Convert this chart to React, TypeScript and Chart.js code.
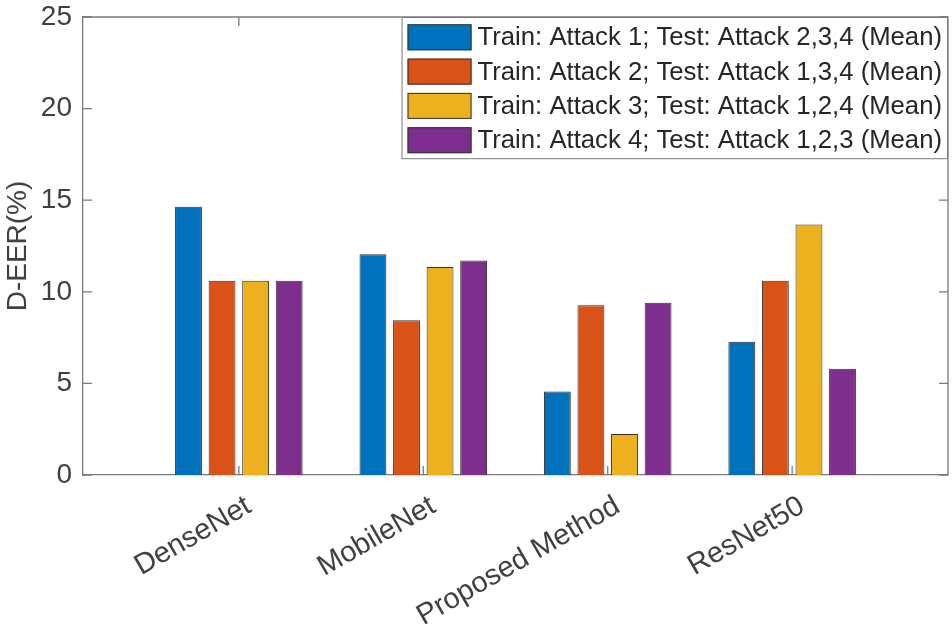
import { useEffect, useRef } from "react";
import { Chart, registerables } from "chart.js";
Chart.register(...registerables);

const categories = ["DenseNet", "MobileNet", "Proposed Method", "ResNet50"];
const seriesLabels = [
  "Train: Attack 1; Test: Attack 2,3,4 (Mean)",
  "Train: Attack 2; Test: Attack 1,3,4 (Mean)",
  "Train: Attack 3; Test: Attack 1,2,4 (Mean)",
  "Train: Attack 4; Test: Attack 1,2,3 (Mean)",
];
const attack1 = [14.64, 12.05, 4.56, 7.27];
const attack2 = [10.6, 8.45, 9.27, 10.6];
const attack3 = [10.6, 11.35, 2.24, 13.67];
const attack4 = [10.6, 11.71, 9.4, 5.8];
const yTicks = [0, 5, 10, 15, 20, 25];
const colors = ["#0072BD", "#D95319", "#EDB120", "#7E2F8E"];

const FONT = "'Liberation Sans', Arial, Helvetica, sans-serif";
const AXIS = "#7a7a7a";
const TEXT = "#404040";

// matlab-ish box: top/right lines, inward ticks, legend in the corner
const boxPlugin = {
  id: "matlabBox",
  afterDraw(chart: any) {
    const { ctx, chartArea: a, scales } = chart;
    const x = scales.x;
    const y = scales.y;
    ctx.save();
    ctx.strokeStyle = AXIS;
    ctx.lineWidth = 1.3;
    ctx.beginPath();
    ctx.moveTo(a.left, a.top);
    ctx.lineTo(a.right, a.top);
    ctx.lineTo(a.right, a.bottom);
    ctx.stroke();
    const tl = 9;
    ctx.beginPath();
    yTicks.forEach((v) => {
      const py = y.getPixelForValue(v);
      ctx.moveTo(a.left, py);
      ctx.lineTo(a.left + tl, py);
      ctx.moveTo(a.right, py);
      ctx.lineTo(a.right - tl, py);
    });
    categories.forEach((_, i) => {
      const px = x.getPixelForValue(i + 1);
      ctx.moveTo(px, a.bottom);
      ctx.lineTo(px, a.bottom - tl);
      ctx.moveTo(px, a.top);
      ctx.lineTo(px, a.top + tl);
    });
    ctx.stroke();

    // legend
    ctx.font = `25.7px ${FONT}`;
    const textW = Math.max(...seriesLabels.map((s) => ctx.measureText(s).width));
    const sw = 64;
    const sh = 26;
    const rowH = 34.3;
    const padX = 6;
    const boxW = padX + sw + 6 + textW + 6;
    const boxH = 7.3 + rowH * (seriesLabels.length - 1) + sh + 6;
    const bx = a.right - boxW;
    const by = a.top;
    ctx.fillStyle = "#fff";
    ctx.fillRect(bx, by, boxW, boxH);
    ctx.strokeStyle = AXIS;
    ctx.lineWidth = 1;
    ctx.strokeRect(bx + 0.5, by + 0.5, boxW - 1, boxH - 1);
    chart.data.datasets.forEach((ds: any, i: number) => {
      const ry = by + 7.3 + i * rowH;
      ctx.fillStyle = ds.backgroundColor;
      ctx.fillRect(bx + padX, ry, sw, sh);
      ctx.strokeStyle = "#333";
      ctx.lineWidth = 1;
      ctx.strokeRect(bx + padX + 0.5, ry + 0.5, sw - 1, sh - 1);
      ctx.fillStyle = "#262626";
      ctx.textAlign = "left";
      ctx.textBaseline = "middle";
      ctx.fillText(ds.label, bx + padX + sw + 6, ry + sh / 2 + 1);
    });
    ctx.restore();
  },
};

export default function App() {
  const canvasRef = useRef<HTMLCanvasElement | null>(null);

  useEffect(() => {
    document.body.style.margin = "0";
    if (!canvasRef.current) return;
    const series = [attack1, attack2, attack3, attack4];

    const chart = new Chart(canvasRef.current, {
      type: "bar",
      data: {
        datasets: series.map((vals, s) => ({
          label: seriesLabels[s],
          data: vals.map((v, i) => ({ x: i + 1, y: v })),
          backgroundColor: colors[s],
          borderColor: "#333333",
          borderWidth: 1,
          categoryPercentage: 0.728,
          barPercentage: 0.8,
        })),
      },
      options: {
        responsive: false,
        animation: false,
        layout: { padding: { top: 17, right: 4, left: 0, bottom: 0 } },
        plugins: {
          legend: { display: false },
          tooltip: { enabled: false },
        },
        scales: {
          x: {
            type: "linear",
            offset: false,
            min: 0.155,
            max: 4.845,
            afterBuildTicks: (scale: any) => {
              scale.ticks = categories.map((_, i) => ({ value: i + 1 }));
            },
            afterFit: (scale: any) => {
              scale.height = 157;
              scale.paddingLeft = 0;
              scale.paddingRight = 0;
            },
            grid: { display: false, drawTicks: false, offset: false },
            border: { display: true, color: AXIS, width: 1.3 },
            ticks: {
              autoSkip: false,
              minRotation: 30,
              maxRotation: 30,
              padding: 14,
              labelOffset: 10,
              color: TEXT,
              font: { family: FONT, size: 29 },
              callback: (v: any) => categories[Number(v) - 1] ?? "",
            },
          },
          y: {
            min: 0,
            max: 25,
            afterBuildTicks: (scale: any) => {
              scale.ticks = yTicks.map((v) => ({ value: v }));
            },
            afterFit: (scale: any) => {
              scale.width = 83;
              scale.paddingTop = 0;
              scale.paddingBottom = 0;
            },
            grid: { display: false, drawTicks: false },
            border: { display: true, color: AXIS, width: 1.3 },
            ticks: {
              padding: 11,
              color: TEXT,
              font: { family: FONT, size: 28 },
            },
            title: {
              display: true,
              text: "D-EER(%)",
              color: TEXT,
              font: { family: FONT, size: 28 },
              padding: { top: 1, bottom: 0 },
            },
          },
        },
      },
      plugins: [boxPlugin],
    });

    return () => {
      chart.destroy();
    };
  }, []);

  return (
    <div style={{ width: 952, height: 632, background: "#fff" }}>
      <canvas ref={canvasRef} width={952} height={632} />
    </div>
  );
}
